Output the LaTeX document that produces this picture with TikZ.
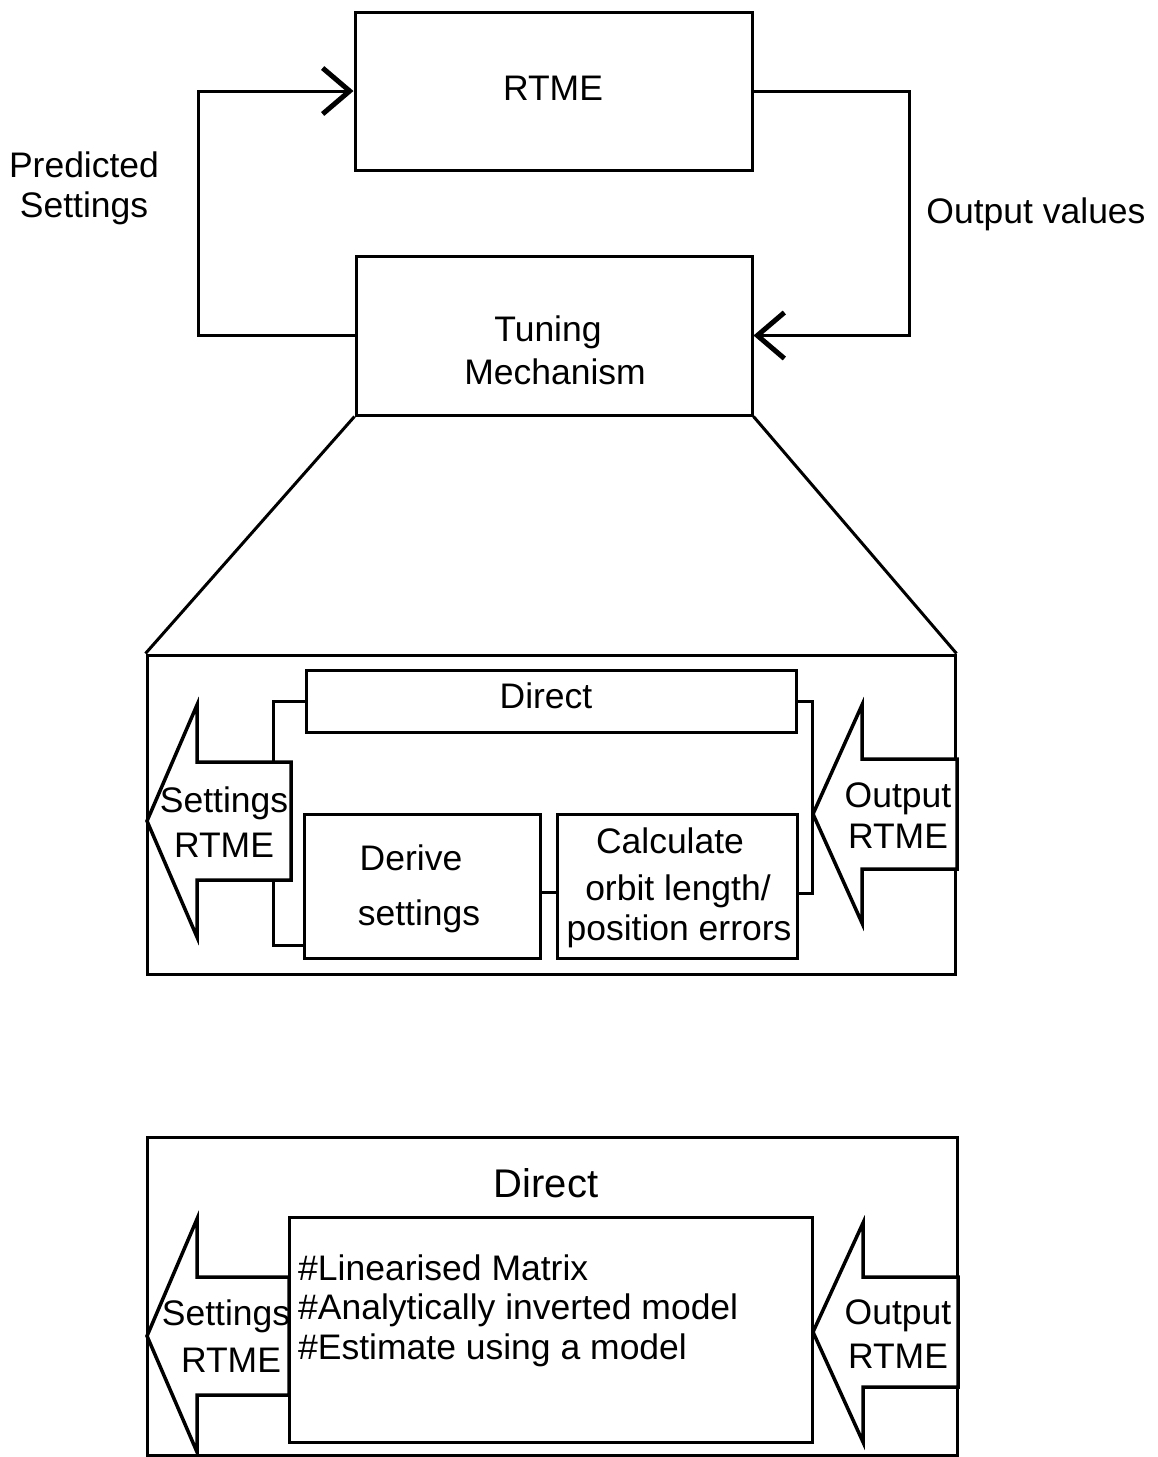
\documentclass[tikz,border=0pt]{standalone}
\usepackage{fontspec}
\setmainfont{Liberation Sans}
\usetikzlibrary{arrows.meta,calc}
\begin{document}
\begin{tikzpicture}[x=1pt,y=-1pt,
  box/.style={draw, line width=3pt, inner sep=0pt},
  conn/.style={line width=3pt},
  barb/.style={-{Straight Barb[length=27pt,width=46pt,line width=5pt]}},
  hollow/.style={draw, fill=white, line width=3.5pt, line join=miter},
  txt/.style={inner sep=0pt, anchor=base, font=\fontsize{35.5}{41}\selectfont},
  bigtxt/.style={inner sep=0pt, anchor=base, font=\fontsize{40}{46}\selectfont}]
\useasboundingbox (0,0) rectangle (1158,1457);
\fill[white] (0,0) rectangle (1158,1457);

% ---- top loop ----
\node[box, minimum width=397, minimum height=158] (rtme) at (553.5,91) {};
\node[box, minimum width=396, minimum height=159] (tune) at (554,335.5) {};
\node[txt] (trtme) at (553,100) {RTME};
\node[txt] (ttune1) at (548,341) {Tuning};
\node[txt] (ttune2) at (555,384) {Mechanism};
\coordinate (lcorner) at (198,91);
\coordinate (rcorner) at (909,200);
\draw[conn, barb] (tune.west) -| (lcorner) -- (rtme.west);
\draw[conn, barb] (rtme.east) -| (rcorner) |- (tune.east);
\node[txt] (tpred1) at (84,177) {Predicted};
\node[txt] (tpred2) at (84,217) {Settings};
\node[txt] (tout) at (1036,223) {Output values};

% ---- panel 1 ----
\node[box, minimum width=808, minimum height=319] (panel1) at (551,814.5) {};
\draw[conn] (tune.south west) -- (panel1.north west);
\draw[conn] (tune.south east) -- (panel1.north east);
\node[box, minimum width=490, minimum height=62] (direct1) at (551,701) {};
\node[box, minimum width=236, minimum height=144] (derive) at (422,886) {};
\node[box, minimum width=240, minimum height=144] (calc) at (677,886) {};
\node[txt] (tdirect1) at (546,708) {Direct};
\node[txt] (tderive1) at (411,870) {Derive};
\node[txt] (tderive2) at (419,925) {settings};
\node[txt] (tcalc1) at (670,853) {Calculate};
\node[txt] (tcalc2) at (678,900) {orbit length/};
\node[txt] (tcalc3) at (679,940) {position errors};

% hollow arrows panel 1
\draw[hollow] (147,821) -- (197,705) -- (197,762) -- (291,762) -- (291,880) -- (197,880) -- (197,937) -- cycle;
\draw[hollow] (813,814) -- (862,705) -- (862,759) -- (957,759) -- (957,869) -- (862,869) -- (862,923) -- cycle;
\coordinate (la1top) at (273,762);
\coordinate (la1bot) at (273,880);
\node[txt] (tsetA1) at (224,812) {Settings};
\node[txt] (tsetA2) at (224,857) {RTME};
\node[txt] (toutA1) at (898,807) {Output};
\node[txt] (toutA2) at (898,848) {RTME};

% connectors panel 1
\draw[conn] (direct1.west) -| (la1top);
\draw[conn] (la1bot) |- ($(derive.south west)+(0,-14)$);
\draw[conn] ($(derive.east)+(0,6)$) -- ($(calc.west)+(0,6)$);
\draw[conn] (direct1.east) -| ($(calc.east)+(14,7)$) -- ($(calc.east)+(0,7)$);

% ---- panel 2 ----
\node[box, minimum width=810, minimum height=318] (panel2) at (552,1296) {};
\draw[hollow] (147,1336) -- (197,1219) -- (197,1277) -- (289,1277) -- (289,1395) -- (197,1395) -- (197,1452) -- cycle;
\draw[hollow] (813,1332) -- (863,1223) -- (863,1277) -- (958,1277) -- (958,1387) -- (863,1387) -- (863,1442) -- cycle;
\node[box, minimum width=523, minimum height=225] (inner) at (550.5,1329.5) {};
\node[bigtxt] (tdirect2) at (546,1197) {Direct};
\node[txt, anchor=base west] (tl1) at (298,1280) {\#Linearised Matrix};
\node[txt, anchor=base west] (tl2) at (298,1319) {\#Analytically inverted model};
\node[txt, anchor=base west] (tl3) at (298,1359) {\#Estimate using a model};
\node[txt] (tsetB1) at (226,1325) {Settings};
\node[txt] (tsetB2) at (231,1372) {RTME};
\node[txt] (toutB1) at (898,1324) {Output};
\node[txt] (toutB2) at (898,1368) {RTME};
\end{tikzpicture}
\end{document}
